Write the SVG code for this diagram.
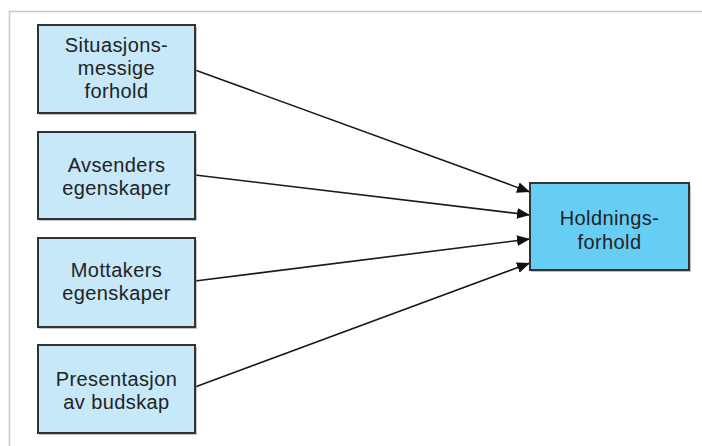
<svg xmlns="http://www.w3.org/2000/svg" width="702" height="446" viewBox="0 0 702 446">
<defs>
<style>
.frame{fill:none;stroke:#c8c8c8;stroke-width:1.5}
.src{fill:#c6e8f9;stroke:#333;stroke-width:2}
.dst{fill:#66cdf5;stroke:#333;stroke-width:2}
.shadow{fill:#888;opacity:0.5}
.lbl{font-family:"Liberation Sans",Arial,sans-serif;font-size:20px;fill:#222;text-anchor:middle;letter-spacing:0.4px}
.conn{stroke:#1a1a1a;stroke-width:1.6;fill:none}
</style>
<marker id="ah" viewBox="0 0 12 10" refX="12" refY="5" markerWidth="13" markerHeight="11" markerUnits="userSpaceOnUse" orient="auto">
<path d="M0,0 L12,5 L0,10 Z" fill="#111"/>
</marker>
</defs>
<rect width="702" height="446" fill="#fff"/>
<path class="frame" d="M9.5,446 V11.5 H702"/>
<g id="connectors">
<line class="conn" x1="195" y1="70" x2="530" y2="192" marker-end="url(#ah)"/>
<line class="conn" x1="195" y1="175" x2="530" y2="215" marker-end="url(#ah)"/>
<line class="conn" x1="195" y1="281" x2="530" y2="239" marker-end="url(#ah)"/>
<line class="conn" x1="195" y1="387" x2="530" y2="263" marker-end="url(#ah)"/>
</g>
<g id="n1">
<rect class="shadow" x="39" y="27" width="158" height="88"/>
<rect class="src" x="38" y="25" width="157" height="88"/>
<text class="lbl" x="116.5" y="52">Situasjons-</text>
<text class="lbl" x="116.5" y="75">messige</text>
<text class="lbl" x="116.5" y="98">forhold</text>
</g>
<g id="n2">
<rect class="shadow" x="39" y="134" width="158" height="87"/>
<rect class="src" x="38" y="132" width="157" height="87"/>
<text class="lbl" x="116.5" y="172">Avsenders</text>
<text class="lbl" x="116.5" y="195">egenskaper</text>
</g>
<g id="n3">
<rect class="shadow" x="39" y="240" width="158" height="89"/>
<rect class="src" x="38" y="238" width="157" height="89"/>
<text class="lbl" x="116.5" y="277">Mottakers</text>
<text class="lbl" x="116.5" y="300">egenskaper</text>
</g>
<g id="n4">
<rect class="shadow" x="39" y="347" width="158" height="88"/>
<rect class="src" x="38" y="345" width="157" height="88"/>
<text class="lbl" x="116.5" y="386">Presentasjon</text>
<text class="lbl" x="116.5" y="409">av budskap</text>
</g>
<g id="target">
<rect class="shadow" x="531" y="185" width="160" height="87"/>
<rect class="dst" x="530" y="183" width="159" height="87"/>
<text class="lbl" x="609.5" y="225">Holdnings-</text>
<text class="lbl" x="609.5" y="249">forhold</text>
</g>
</svg>
